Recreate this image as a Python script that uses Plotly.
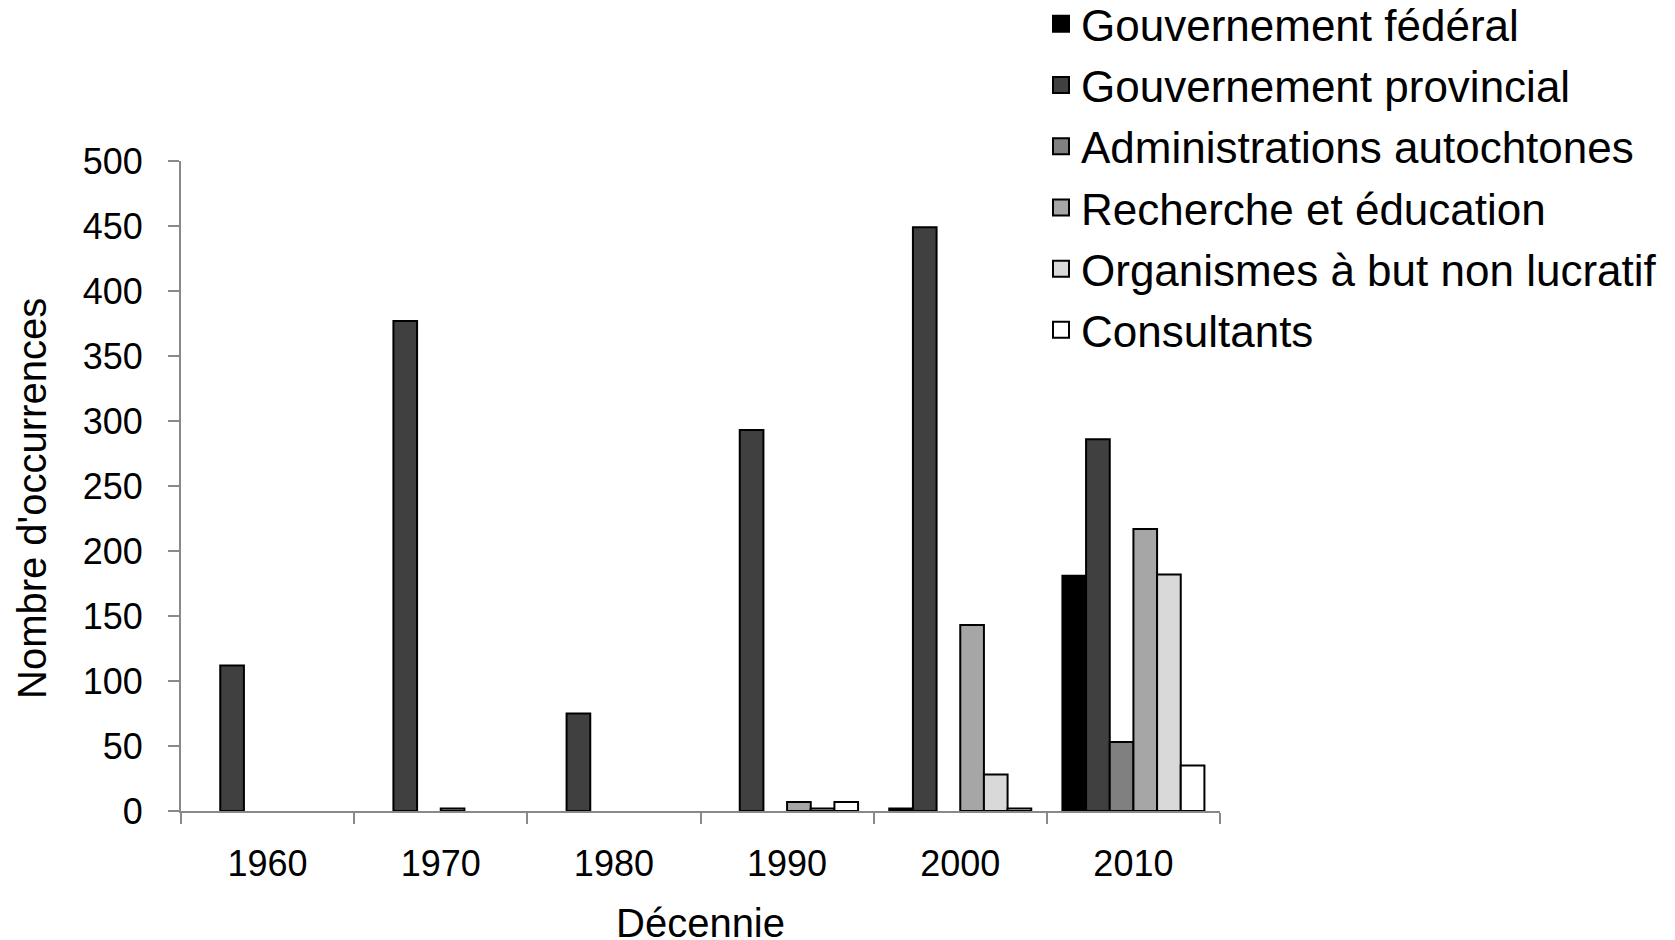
import plotly.graph_objects as go

# 🔹 données
decennies = ["1960", "1970", "1980", "1990", "2000", "2010"]

federal = [None, None, None, None, 2, 181]
provincial = [112, 377, 75, 293, 449, 286]
autochtones = [None, None, None, None, None, 53]
recherche = [None, 2, None, 7, 143, 217]
osbl = [None, None, None, 2, 28, 182]
consultants = [None, None, None, 7, 2, 35]

series = [
    ("Gouvernement fédéral", federal, "#000000"),
    ("Gouvernement provincial", provincial, "#404040"),
    ("Administrations autochtones", autochtones, "#808080"),
    ("Recherche et éducation", recherche, "#a6a6a6"),
    ("Organismes à but non lucratif", osbl, "#d9d9d9"),
    ("Consultants", consultants, "#ffffff"),
]

police = "Liberation Sans, Arial, sans-serif"
gris = "#898989"

fig = go.Figure()

for i, (nom, valeurs, couleur) in enumerate(series):
    fig.add_trace(go.Bar(
        x=decennies,
        y=valeurs,
        name=nom,
        legendgroup=f"g{i}",
        showlegend=False,
        marker=dict(color=couleur, line=dict(color="#000000", width=2))
    ))
    # 🔹 entrée de légende avec un carré plus grand
    fig.add_trace(go.Scatter(
        x=[None], y=[None],
        mode="markers",
        name=nom,
        legendgroup=f"g{i}",
        marker=dict(symbol="square", size=16, color=couleur,
                    line=dict(color="#000000", width=2))
    ))

# 🔹 la page ajoute une marge de 8 px : figure un peu plus petite
fig.update_layout(
    width=1667,
    height=932,
    barmode="group",
    bargap=0.18,
    bargroupgap=0,
    plot_bgcolor="white",
    paper_bgcolor="white",
    font=dict(family=police, color="#000000", size=36),
    margin=dict(l=173, r=455, t=153, b=129, autoexpand=False),
    legend=dict(
        xref="container", yref="paper",
        x=1033 / 1667, y=1.265,
        xanchor="left", yanchor="top",
        font=dict(size=44, family=police),
        bgcolor="rgba(0,0,0,0)",
        traceorder="grouped",
        tracegroupgap=1,
        itemsizing="trace",
    ),
    xaxis=dict(
        type="category",
        showgrid=False,
        showline=True, linecolor=gris, linewidth=2,
        ticks="outside", tickson="boundaries", ticklen=11,
        tickcolor=gris, tickwidth=2,
        tickfont=dict(size=36),
        ticklabelstandoff=20,
    ),
    yaxis=dict(
        range=[0, 500],
        dtick=50,
        showgrid=False,
        zeroline=False,
        showline=True, linecolor=gris, linewidth=2,
        ticks="outside", ticklen=11, tickcolor=gris, tickwidth=2,
        tickfont=dict(size=36),
        ticklabelstandoff=18,
    ),
    showlegend=True,
)

# 🔹 titres des axes
fig.add_annotation(
    text="Nombre d'occurrences", textangle=-90,
    xref="paper", yref="paper", x=-0.1434, y=0.48,
    xanchor="center", yanchor="middle", showarrow=False,
    font=dict(size=40, family=police)
)
fig.add_annotation(
    text="Décennie",
    xref="paper", yref="paper", x=0.5, y=-0.1723,
    xanchor="center", yanchor="middle", showarrow=False,
    font=dict(size=40, family=police)
)

fig.write_html("out.html")
